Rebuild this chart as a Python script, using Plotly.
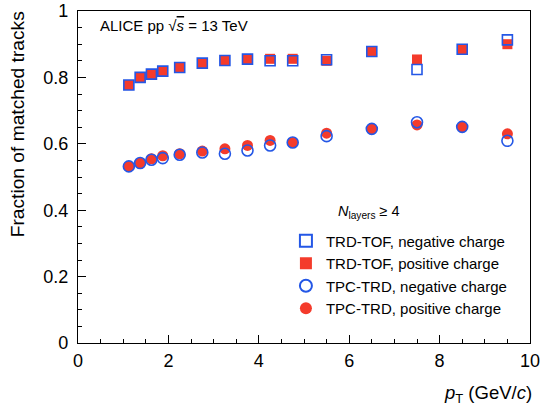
import plotly.graph_objects as go

pt = [1.125, 1.375, 1.625, 1.875, 2.25, 2.75, 3.25, 3.75, 4.25, 4.75, 5.5, 6.5, 7.5, 8.5, 9.5]
trdtof_neg = [0.777, 0.800, 0.810, 0.819, 0.830, 0.843, 0.851, 0.855, 0.850, 0.850, 0.853, 0.878, 0.824, 0.885, 0.913]
trdtof_pos = [0.777, 0.800, 0.810, 0.819, 0.830, 0.843, 0.851, 0.855, 0.856, 0.856, 0.850, 0.878, 0.854, 0.885, 0.900]
tpctrd_neg = [0.532, 0.542, 0.552, 0.557, 0.567, 0.574, 0.570, 0.580, 0.595, 0.604, 0.623, 0.645, 0.665, 0.651, 0.609]
tpctrd_pos = [0.532, 0.542, 0.555, 0.564, 0.570, 0.578, 0.585, 0.595, 0.610, 0.604, 0.632, 0.645, 0.657, 0.651, 0.630]

BLUE = "#2457e6"
RED = "#f43b2b"
FONT = "Liberation Sans, Arial, Helvetica, sans-serif"

fig = go.Figure()
fig.add_trace(go.Scatter(x=pt, y=trdtof_pos, mode="markers", name="TRD-TOF, positive charge",
                         legendrank=2, marker=dict(symbol="square", size=10, color=RED, line=dict(width=0))))
fig.add_trace(go.Scatter(x=pt, y=tpctrd_pos, mode="markers", name="TPC-TRD, positive charge",
                         legendrank=4, marker=dict(symbol="circle", size=11, color=RED, line=dict(width=0))))
fig.add_trace(go.Scatter(x=pt, y=trdtof_neg, mode="markers", name="TRD-TOF, negative charge",
                         legendrank=1, marker=dict(symbol="square-open", size=10, color=BLUE, line=dict(width=1.6))))
fig.add_trace(go.Scatter(x=pt, y=tpctrd_neg, mode="markers", name="TPC-TRD, negative charge",
                         legendrank=3, marker=dict(symbol="circle-open", size=11, color=BLUE, line=dict(width=1.6))))

axis_common = dict(showgrid=False, zeroline=False, showline=True, linecolor="black", linewidth=1.2,
                   mirror=True, ticks="inside", ticklen=8, tickwidth=1, tickcolor="black",
                   automargin=False,
                   tickfont=dict(family=FONT, size=18, color="black"),
                   minor=dict(ticks="inside", ticklen=4, tickwidth=1, tickcolor="black"))

fig.update_xaxes(range=[0, 10], dtick=2, tick0=0, minor_dtick=0.5, ticklabelstandoff=1, **axis_common)
fig.update_yaxes(range=[0, 1], dtick=0.2, tick0=0, minor_dtick=0.05, ticklabelstandoff=5,
                 tickformat="~g", **axis_common)

fig.add_annotation(text="Fraction of matched tracks", xref="paper", yref="paper", x=-0.135, y=1.005,
                   xanchor="center", yanchor="top", textangle=-90, showarrow=False,
                   font=dict(family=FONT, size=19.2, color="black"))
fig.add_annotation(text="<i>p</i><sub>T</sub> (GeV/<i>c</i>)", xref="paper", yref="paper", x=1.008, y=-0.154,
                   xanchor="right", yanchor="middle", showarrow=False,
                   font=dict(family=FONT, size=18.5, color="black"))
fig.add_annotation(text="ALICE pp √<span style='text-decoration:overline'><i>s</i></span> = 13 TeV",
                   xref="paper", yref="paper", x=0.045, y=0.955, xanchor="left", yanchor="middle",
                   showarrow=False, font=dict(family=FONT, size=15, color="black"))
fig.add_annotation(text="<i>N</i><sub>layers</sub> ≥ 4", xref="paper", yref="paper", x=0.57, y=0.395,
                   xanchor="left", yanchor="middle", showarrow=False,
                   font=dict(family=FONT, size=14.5, color="black"))

fig.update_layout(
    width=541, height=416,
    margin=dict(l=78, r=11, t=11, b=73),
    paper_bgcolor="white", plot_bgcolor="white",
    font=dict(family=FONT, color="black"),
    legend=dict(x=0.46, y=0.357, xanchor="left", yanchor="top", bgcolor="rgba(0,0,0,0)",
                font=dict(family=FONT, size=15, color="black"), tracegroupgap=0,
                itemsizing="constant"),
)

fig.write_html("out.html", config={"displayModeBar": False},
               post_script="document.body.style.margin='0';")
